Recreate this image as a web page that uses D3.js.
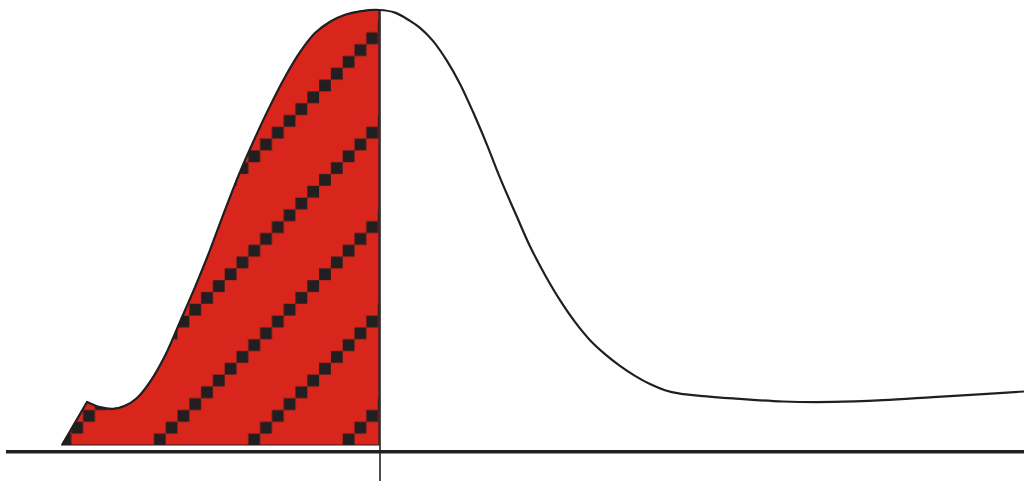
<!DOCTYPE html>
<html>
<head>
<meta charset="utf-8">
<script src="https://cdn.jsdelivr.net/npm/d3@7.9.0/dist/d3.min.js"></script>
<style>
  body { margin: 0; background: #fff; }
  svg { display: block; }
</style>
</head>
<body>
<svg id="chart"></svg>
<script>
// Curve: x position (0-100) and relative height (0-1)
const curveX = [5.50, 7.96, 9.23, 10.51, 11.69, 12.87, 14.15, 15.62, 17.09, 18.57,
                20.04, 21.51, 22.99, 24.46, 25.93, 27.41, 28.88, 30.35, 31.83, 33.30,
                34.77, 36.64, 38.21, 39.69, 40.67, 41.94, 43.32, 44.60, 45.87, 47.25,
                48.53, 50.20, 51.47, 52.95, 54.42, 55.89, 57.37, 58.84, 60.31, 61.79,
                63.26, 64.73, 66.21, 68.17, 71.41, 76.33, 81.24, 86.15, 91.06, 95.97, 100];
const curveY = [0, 0.099, 0.087, 0.083, 0.090, 0.108, 0.145, 0.205, 0.283, 0.363,
                0.448, 0.540, 0.628, 0.706, 0.779, 0.846, 0.903, 0.947, 0.973, 0.989,
                0.997, 1.0, 0.994, 0.975, 0.959, 0.929, 0.883, 0.830, 0.766, 0.690,
                0.614, 0.524, 0.457, 0.391, 0.333, 0.283, 0.241, 0.209, 0.182, 0.159,
                0.140, 0.126, 0.118, 0.113, 0.107, 0.100, 0.099, 0.103, 0.110, 0.117, 0.123];
const cutoff = 36.64;   // shaded area ends here

const width = 1024, height = 481;
const ink = "#231f20", red = "#d9261c";

const svg = d3.select("#chart")
    .attr("width", width)
    .attr("height", height);

const x = d3.scaleLinear().domain([0, 100]).range([6, 1024]);
const y = d3.scaleLinear().domain([0, 1]).range([445, 10]);

const points = curveX.map((d, i) => ({ x: d, y: curveY[i] }));

// Diagonal staircase of squares
const sq = 11.8, tile = sq * 8;
const pattern = svg.append("defs").append("pattern")
    .attr("id", "steps")
    .attr("patternUnits", "userSpaceOnUse")
    .attr("x", 35.9)
    .attr("y", -3)
    .attr("width", tile)
    .attr("height", tile);

pattern.selectAll("rect")
    .data(d3.range(8))
    .enter()
    .append("rect")
    .attr("x", i => i * sq)
    .attr("y", i => (7 - i) * sq)
    .attr("width", sq)
    .attr("height", sq)
    .attr("fill", ink);

// the first piece of the curve is a straight ramp, the rest is smooth
const smooth = d3.line()
    .x(d => x(d.x))
    .y(d => y(d.y))
    .curve(d3.curveCatmullRom.alpha(0.5));

const start = points[0];
const rest = points.slice(1);
const left = rest.filter(d => d.x <= cutoff);

const shadedPath = `M${x(start.x)},${y(0)}` +
    smooth(left).replace(/^M/, "L") +
    `L${x(cutoff)},${y(0)}Z`;

svg.append("path")
    .attr("d", shadedPath)
    .attr("fill", red);

svg.append("path")
    .attr("d", shadedPath)
    .attr("fill", "url(#steps)");

svg.append("path")
    .attr("d", shadedPath)
    .attr("fill", "none")
    .attr("stroke", ink)
    .attr("stroke-width", 1.2);

// full outline
svg.append("path")
    .attr("d", `M${x(start.x)},${y(start.y)}` + smooth(rest).replace(/^M/, "L"))
    .attr("fill", "none")
    .attr("stroke", ink)
    .attr("stroke-width", 2.2)
    .attr("stroke-linejoin", "round");

// baseline
svg.append("line")
    .attr("x1", x(0))
    .attr("x2", x(100))
    .attr("y1", y(0) + 6.7)
    .attr("y2", y(0) + 6.7)
    .attr("stroke", ink)
    .attr("stroke-width", 3.5);

// divider
svg.append("line")
    .attr("x1", x(cutoff) + 1)
    .attr("x2", x(cutoff) + 1)
    .attr("y1", y(1))
    .attr("y2", height)
    .attr("stroke", ink)
    .attr("stroke-width", 1.6);
</script>
</body>
</html>
